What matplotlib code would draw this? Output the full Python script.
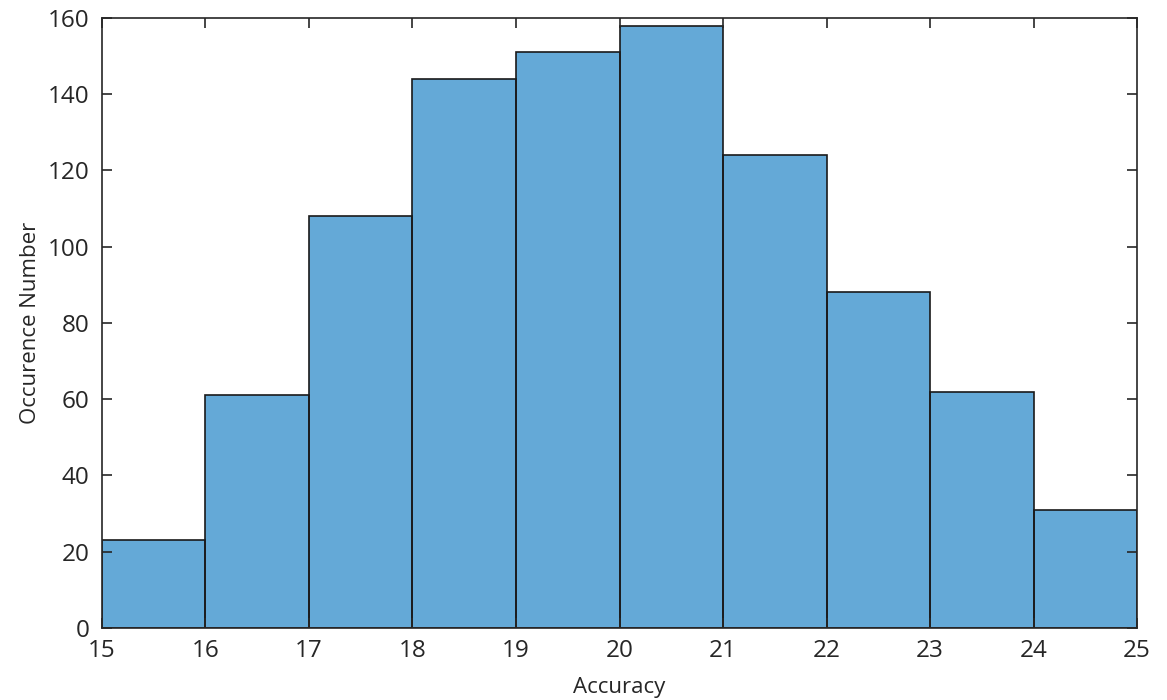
import matplotlib
matplotlib.use("Agg")
import matplotlib.pyplot as plt
import numpy as np

# histogram bins and counts
bin_edges = [15, 16, 17, 18, 19, 20, 21, 22, 23, 24, 25]
counts = [23, 61, 108, 144, 151, 158, 124, 88, 62, 31]
x_ticks = list(range(15, 26))
y_ticks = list(range(0, 161, 20))

plt.rcParams['font.family'] = ['Open Sans', 'DejaVu Sans']

fig = plt.figure(figsize=(11.67, 7), dpi=100)
ax = fig.add_axes([0.0874, 0.1029, 0.9743 - 0.0874, 0.9743 - 0.1029])

ax.stairs(counts, bin_edges, fill=True, facecolor='#64a9d7', edgecolor='none')
ax.bar(bin_edges[:-1], counts, width=np.diff(bin_edges), align='edge',
       facecolor='none', edgecolor='#1a1a1a', linewidth=1.2)

ax.set_xlim(15, 25)
ax.set_ylim(0, 160)
ax.set_xticks(x_ticks)
ax.set_yticks(y_ticks)
ax.tick_params(direction='in', top=True, right=True, length=7, width=1.2,
               labelsize=17.5, colors='#262626')
ax.tick_params(axis='x', pad=8)
ax.tick_params(axis='y', pad=9)
for s in ax.spines.values():
    s.set_linewidth(1.2)
    s.set_color('#262626')

ax.set_xlabel('Accuracy', fontsize=16, color='#262626', labelpad=10)
ax.set_ylabel('Occurence Number', fontsize=16, color='#262626', labelpad=5)

fig.savefig('out.png', dpi=100)
